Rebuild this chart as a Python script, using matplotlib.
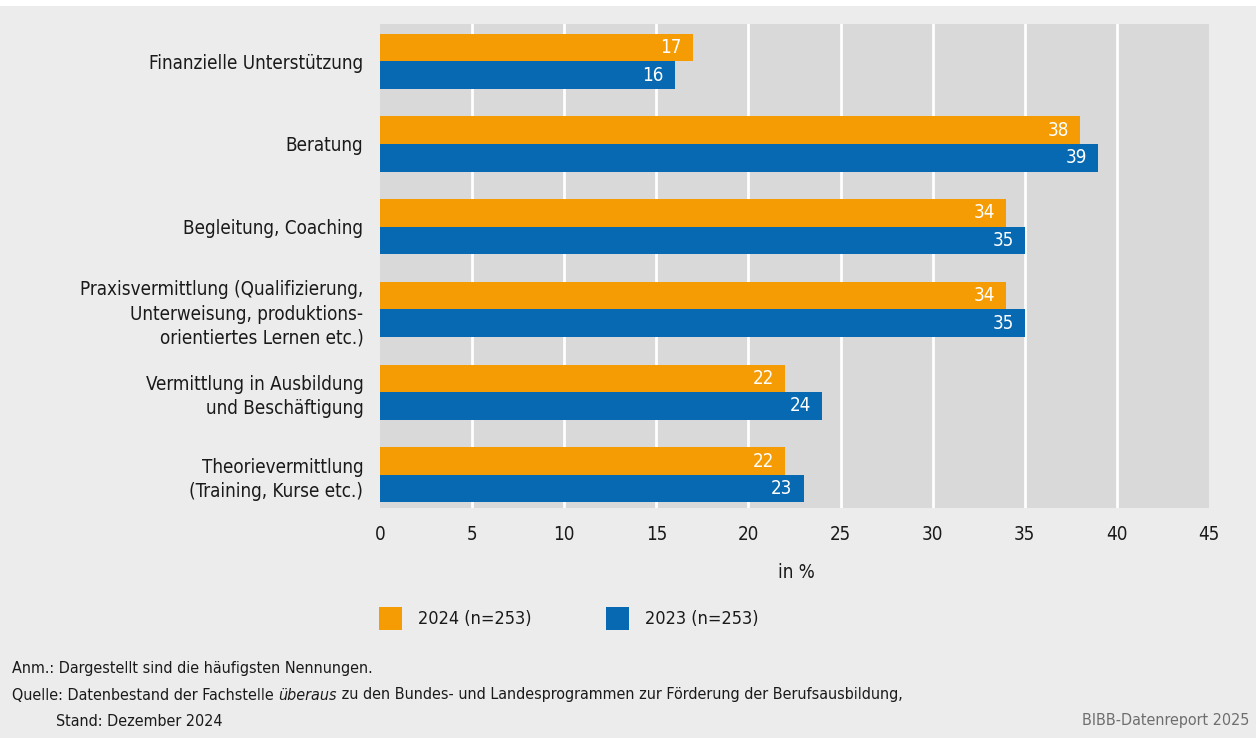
import matplotlib
matplotlib.use("Agg")
import matplotlib.pyplot as plt
from matplotlib.patches import Rectangle
from matplotlib import font_manager

# Daten
categories = [
    "Finanzielle Unterstützung",
    "Beratung",
    "Begleitung, Coaching",
    "Praxisvermittlung (Qualifizierung,\nUnterweisung, produktions-\norientiertes Lernen etc.)",
    "Vermittlung in Ausbildung\nund Beschäftigung",
    "Theorievermittlung\n(Training, Kurse etc.)",
]
values_2024 = [17, 38, 34, 34, 22, 22]
values_2023 = [16, 39, 35, 35, 24, 23]
series_labels = ["2024 (n=253)", "2023 (n=253)"]
x_ticks = [0, 5, 10, 15, 20, 25, 30, 35, 40, 45]

ORANGE = "#f59c05"
BLUE = "#0769b2"
FIG_BG = "#ececec"
AX_BG = "#d9d9d9"

# schmale Schrift (DejaVu Sans Condensed), falls vorhanden
has_cond = any(f.name == "DejaVu Sans" and "condensed" in str(f.stretch).lower()
               for f in font_manager.fontManager.ttflist)
plt.rcParams["font.family"] = ["DejaVu Sans"]
if has_cond:
    plt.rcParams["font.stretch"] = "condensed"

W, H = 1256, 738
fig = plt.figure(figsize=(W / 100, H / 100), dpi=100)
fig.patch.set_facecolor(FIG_BG)
fig.add_artist(Rectangle((0, 1 - 6 / H), 1, 6 / H, transform=fig.transFigure,
                         facecolor="white", edgecolor="none"))

ax = fig.add_axes([380 / W, 1 - 508 / H, (1209 - 380) / W, (508 - 24) / H])
ax.set_facecolor(AX_BG)

# Gitterlinien nur innen (nicht bei 0 und 45)
for t in x_ticks[1:-1]:
    ax.axvline(t, color="white", linewidth=2, zorder=0.5)

h = 0.333
y = list(range(len(categories)))
bars1 = ax.barh([yi - h / 2 for yi in y], values_2024, height=h, color=ORANGE, label=series_labels[0], zorder=2)
bars2 = ax.barh([yi + h / 2 for yi in y], values_2023, height=h, color=BLUE, label=series_labels[1], zorder=2)

for bars, vals in ((bars1, values_2024), (bars2, values_2023)):
    for b, v in zip(bars, vals):
        ax.annotate(str(v), (v, b.get_y() + b.get_height() / 2), xytext=(-8, 0),
                    textcoords="offset points", ha="right", va="center",
                    color="white", fontsize=13.5, zorder=3)

ax.set_xlim(0, 45)
ax.set_ylim(5.4, -0.45)
ax.set_xticks(x_ticks)
ax.set_xticklabels([str(t) for t in x_ticks], fontsize=13.5)
ax.set_yticks(y)
ax.set_yticklabels(categories, fontsize=13.5, linespacing=1.35, ha="right")
ax.tick_params(axis="both", length=0, colors="#1a1a1a")
ax.tick_params(axis="x", pad=12)
ax.tick_params(axis="y", pad=12)
for spine in ax.spines.values():
    spine.set_visible(False)

fig.text(796 / W, 1 - 572 / H, "in %", ha="center", va="center", fontsize=13.5, color="#1a1a1a")

# Legende
sq = 23
for x0, col, lab in ((379, ORANGE, series_labels[0]), (606, BLUE, series_labels[1])):
    fig.add_artist(Rectangle((x0 / W, 1 - 630 / H), sq / W, sq / H, transform=fig.transFigure,
                             facecolor=col, edgecolor="none"))
    fig.text((x0 + 39) / W, 1 - 619 / H, lab, ha="left", va="center", fontsize=13, color="#1a1a1a")

# Fusszeilen
fs = 11.5
fig.text(12 / W, 1 - 668 / H, "Anm.: Dargestellt sind die häufigsten Nennungen.",
         ha="left", va="center", fontsize=fs, color="#1a1a1a")
t1 = fig.text(12 / W, 1 - 695 / H, "Quelle: Datenbestand der Fachstelle ",
              ha="left", va="center", fontsize=fs, color="#1a1a1a")
renderer = fig.canvas.get_renderer()
bb = t1.get_window_extent(renderer)
t2 = fig.text(bb.x1 / W, 1 - 695 / H, "überaus",
              ha="left", va="center", fontsize=fs, style="italic", color="#1a1a1a")
bb2 = t2.get_window_extent(renderer)
fig.text(bb2.x1 / W, 1 - 695 / H,
         " zu den Bundes- und Landesprogrammen zur Förderung der Berufsausbildung,",
         ha="left", va="center", fontsize=fs, color="#1a1a1a")
fig.text(56 / W, 1 - 721 / H, "Stand: Dezember 2024",
         ha="left", va="center", fontsize=fs, color="#1a1a1a")
fig.text(1249 / W, 1 - 721 / H, "BIBB-Datenreport 2025",
         ha="right", va="center", fontsize=fs, color="#6e6e6e")

fig.savefig("out.png", dpi=100, facecolor=fig.get_facecolor())
